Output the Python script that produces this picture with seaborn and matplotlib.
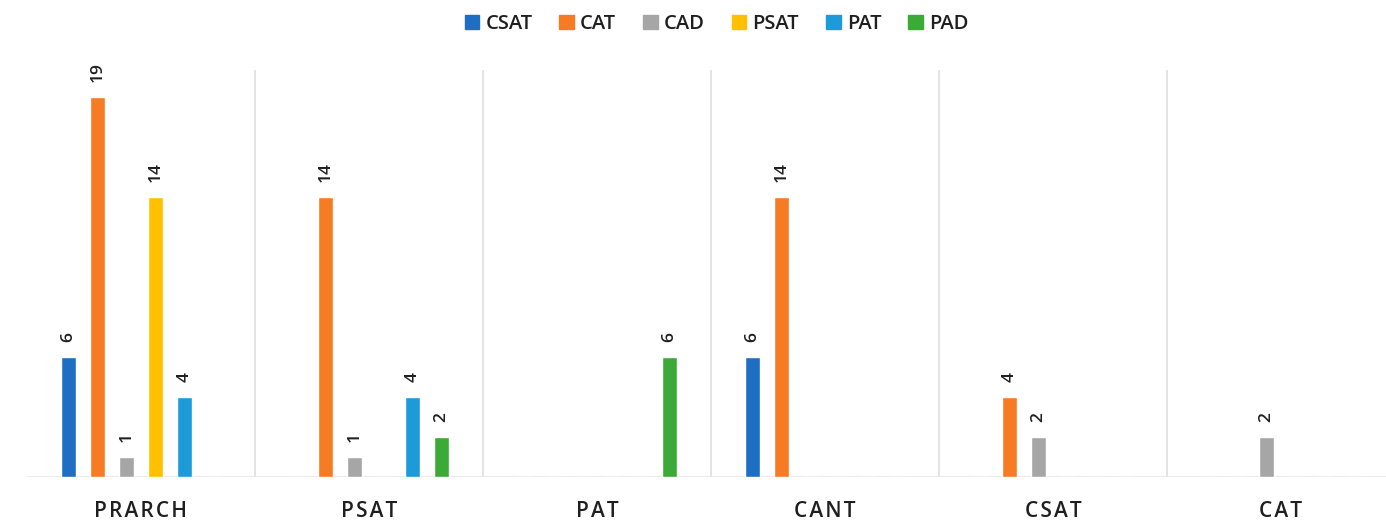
import matplotlib
matplotlib.use("Agg")
import matplotlib.pyplot as plt
import seaborn as sns
import pandas as pd

# Categories on the x axis and the series drawn within each of them
categories = ["PRARCH", "PSAT", "PAT", "CANT", "CSAT", "CAT"]
series = ["CSAT", "CAT", "CAD", "PSAT", "PAT", "PAD"]

# Counts per series, one value per category
csat = [6, 0, 0, 6, 0, 0]
cat = [19, 14, 0, 14, 4, 0]
cad = [1, 1, 0, 0, 2, 2]
psat = [14, 0, 0, 0, 0, 0]
pat = [4, 4, 0, 0, 0, 0]
pad = [0, 2, 6, 0, 0, 0]

colors = ["#1E6FC3", "#F77B22", "#A6A6A6", "#FFC000", "#1D9BD8", "#3BAA36"]

values = [csat, cat, cad, psat, pat, pad]
df = pd.DataFrame(
    [(c, s, v[i]) for s, v in zip(series, values) for i, c in enumerate(categories)],
    columns=["category", "series", "count"],
)

sns.set_theme(style="white")
plt.rcParams["font.family"] = ["Open Sans", "DejaVu Sans"]

fig = plt.figure(figsize=(13.86, 5.25), dpi=100)
ax = fig.add_axes([27 / 1386, 48 / 525, 1368 / 1386, 407 / 525])

sns.barplot(
    data=df, x="category", y="count", hue="series",
    order=categories, hue_order=series, palette=colors,
    width=0.763, gap=0.48, saturation=1, ax=ax, legend=False,
)

text_color = "#1F1F1F"
for container, vals in zip(ax.containers, values):
    labels = [str(v) if v else "" for v in vals]
    ax.bar_label(container, labels=labels, rotation=90, padding=11,
                 fontsize=12.5, fontweight="semibold", color=text_color)

ax.set_xlim(-0.5, len(categories) - 0.5)
ax.set_ylim(0, 20.35)
ax.set_xlabel("")
ax.set_ylabel("")
ax.set_yticks([])
ax.set_xticks(range(len(categories)))
ax.set_xticklabels(["\u200a".join(c) for c in categories],
                   fontsize=15, fontweight="semibold", color=text_color)
ax.tick_params(axis="x", length=0, pad=17)

for s in ax.spines.values():
    s.set_visible(False)

grid_color = "#E2E2E2"
for b in range(len(categories) - 1):
    ax.axvline(b + 0.5, color=grid_color, lw=1.3, zorder=0)
ax.axhline(0, color=grid_color, lw=1.8, zorder=0)

handles = [plt.Rectangle((0, 0), 1, 1, color=c) for c in colors]
leg = fig.legend(handles, series, loc="upper center", bbox_to_anchor=(0.517, 1.008),
                 ncol=6, frameon=False, fontsize=14.5, handlelength=0.72,
                 handleheight=0.72, handletextpad=0.3, columnspacing=1.35)
for t in leg.get_texts():
    t.set_color(text_color)
    t.set_fontweight("semibold")

fig.savefig("out.png", dpi=100)
